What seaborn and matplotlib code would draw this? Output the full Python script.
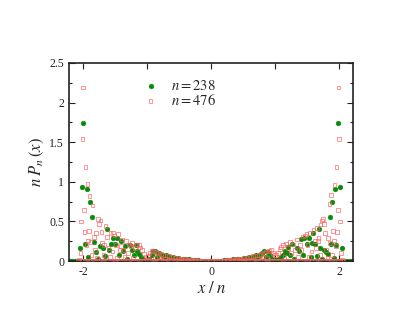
import matplotlib

matplotlib.use("Agg")
import matplotlib.pyplot as plt
import seaborn as sns
import pandas as pd

# n = 238 (green filled circles): points, left and right wings
green_left = [
    (-2.05, 0.16), (-2.02, 0.94), (-1.995, 1.74), (-1.97, 0.21), (-1.94, 0.91),
    (-1.92, 0.05), (-1.89, 0.74), (-1.86, 0.55), (-1.83, 0.24), (-1.79, 0.11),
    (-1.76, 0.02), (-1.73, 0.19), (-1.69, 0.17), (-1.66, 0.06), (-1.63, 0.40),
    (-1.59, 0.14), (-1.56, 0.22), (-1.53, 0.29), (-1.50, 0.21), (-1.47, 0.29),
    (-1.44, 0.07), (-1.40, 0.25), (-1.37, 0.13), (-1.34, 0.19), (-1.31, 0.02),
    (-1.27, 0.20), (-1.24, 0.14), (-1.21, 0.08), (-1.18, 0.20), (-1.15, 0.12),
    (-1.13, 0.085), (-1.10, 0.05), (-1.07, 0.02), (-1.04, 0.01), (-0.97, 0.03),
    (-0.93, 0.08), (-0.90, 0.12), (-0.87, 0.12), (-0.84, 0.05), (-0.81, 0.10),
    (-0.77, 0.08), (-0.74, 0.03), (-0.71, 0.07), (-0.67, 0.06), (-0.64, 0.02),
    (-0.60, 0.05), (-0.56, 0.04), (-0.52, 0.034), (-0.48, 0.01), (-0.44, 0.03),
    (-0.40, 0.025), (-0.35, 0.02), (-0.30, 0.015), (-0.25, 0.013), (-0.20, 0.008),
    (-0.15, 0.005), (-0.10, 0.003),
]
green_right = [
    (0.10, 0.003), (0.15, 0.005), (0.20, 0.008), (0.25, 0.012), (0.30, 0.016),
    (0.35, 0.02), (0.40, 0.026), (0.44, 0.03), (0.48, 0.012), (0.52, 0.035),
    (0.56, 0.04), (0.60, 0.05), (0.64, 0.02), (0.67, 0.06), (0.71, 0.07),
    (0.74, 0.03), (0.77, 0.08), (0.80, 0.10), (0.83, 0.12), (0.86, 0.05),
    (0.89, 0.11), (0.92, 0.07), (0.96, 0.02), (1.03, 0.01), (1.06, 0.03),
    (1.09, 0.05), (1.12, 0.076), (1.15, 0.13), (1.18, 0.10), (1.21, 0.18),
    (1.24, 0.07), (1.26, 0.21), (1.30, 0.02), (1.34, 0.17), (1.37, 0.13),
    (1.41, 0.28), (1.44, 0.07), (1.46, 0.29), (1.50, 0.21), (1.53, 0.29),
    (1.56, 0.05), (1.58, 0.23), (1.60, 0.35), (1.63, 0.21), (1.66, 0.06),
    (1.68, 0.40), (1.71, 0.17), (1.74, 0.02), (1.77, 0.14), (1.80, 0.11),
    (1.83, 0.09), (1.855, 0.55), (1.87, 0.22), (1.89, 0.75), (1.92, 0.04),
    (1.93, 0.91), (1.96, 0.20), (1.98, 1.74), (2.01, 0.93), (2.04, 0.16),
]
green_zero_x = [
    -2.21, -2.17, -2.13, -2.09, -2.00, -1.80, -1.60, -1.40, -1.20, -1.02, -1.00,
    -0.98, -0.80, -0.60, -0.40, -0.20, 0.00, 0.20, 0.40, 0.60, 0.80, 0.98, 1.00,
    1.02, 1.20, 1.40, 1.60, 1.80, 2.00, 2.09, 2.13, 2.17, 2.21,
]

# n = 476 (red open squares)
red_left = [
    (-2.06, 0.02), (-2.04, 0.10), (-2.03, 0.50), (-2.01, 1.54), (-2.00, 2.19),
    (-1.99, 0.64), (-1.98, 0.37), (-1.96, 1.19), (-1.945, 0.20), (-1.93, 0.97),
    (-1.925, 0.26), (-1.91, 0.38), (-1.90, 0.82), (-1.885, 0.24), (-1.87, 0.08),
    (-1.85, 0.70), (-1.83, 0.30), (-1.81, 0.14), (-1.80, 0.35), (-1.78, 0.04),
    (-1.77, 0.53), (-1.75, 0.47), (-1.73, 0.51), (-1.71, 0.37), (-1.70, 0.23),
    (-1.68, 0.08), (-1.67, 0.20), (-1.65, 0.44), (-1.63, 0.30), (-1.60, 0.16),
    (-1.58, 0.05), (-1.57, 0.35), (-1.54, 0.12), (-1.53, 0.36), (-1.51, 0.32),
    (-1.49, 0.20), (-1.47, 0.04), (-1.45, 0.34), (-1.43, 0.14), (-1.41, 0.19),
    (-1.39, 0.27), (-1.37, 0.14), (-1.35, 0.05), (-1.33, 0.25), (-1.30, 0.10),
    (-1.28, 0.21), (-1.25, 0.19), (-1.24, 0.23), (-1.22, 0.04), (-1.19, 0.16),
    (-1.16, 0.21), (-1.13, 0.20), (-1.11, 0.17), (-1.08, 0.14), (-1.05, 0.09),
    (-1.02, 0.055), (-0.99, 0.06), (-0.96, 0.10), (-0.93, 0.13), (-0.90, 0.13),
    (-0.88, 0.04), (-0.86, 0.11), (-0.83, 0.10), (-0.80, 0.02), (-0.78, 0.09),
    (-0.75, 0.08), (-0.72, 0.03), (-0.69, 0.07), (-0.66, 0.06), (-0.63, 0.02),
    (-0.60, 0.05), (-0.57, 0.045), (-0.54, 0.015), (-0.51, 0.035), (-0.47, 0.03),
    (-0.44, 0.01), (-0.41, 0.025), (-0.37, 0.02), (-0.33, 0.015), (-0.29, 0.012),
    (-0.25, 0.01), (-0.20, 0.007), (-0.15, 0.004),
]
red_right = [
    (0.15, 0.004), (0.20, 0.007), (0.25, 0.01), (0.29, 0.012), (0.33, 0.015),
    (0.37, 0.02), (0.41, 0.025), (0.44, 0.01), (0.47, 0.03), (0.51, 0.035),
    (0.54, 0.015), (0.57, 0.045), (0.60, 0.05), (0.63, 0.02), (0.66, 0.06),
    (0.69, 0.07), (0.72, 0.03), (0.75, 0.08), (0.78, 0.09), (0.80, 0.02),
    (0.83, 0.10), (0.86, 0.12), (0.88, 0.04), (0.91, 0.13), (0.94, 0.14),
    (0.97, 0.10), (1.00, 0.08), (1.02, 0.076), (1.05, 0.10), (1.08, 0.15),
    (1.09, 0.18), (1.12, 0.20), (1.15, 0.05), (1.17, 0.22), (1.20, 0.16),
    (1.23, 0.24), (1.25, 0.10), (1.28, 0.21), (1.31, 0.14), (1.34, 0.27),
    (1.36, 0.05), (1.39, 0.20), (1.41, 0.14), (1.44, 0.31), (1.47, 0.32),
    (1.49, 0.34), (1.51, 0.20), (1.53, 0.05), (1.55, 0.35), (1.57, 0.12),
    (1.60, 0.39), (1.62, 0.25), (1.64, 0.16), (1.66, 0.42), (1.67, 0.25),
    (1.68, 0.29), (1.70, 0.08), (1.71, 0.46), (1.73, 0.51), (1.75, 0.53),
    (1.77, 0.47), (1.78, 0.35), (1.80, 0.14), (1.82, 0.04), (1.83, 0.29),
    (1.85, 0.72), (1.86, 0.23), (1.87, 0.83), (1.89, 0.08), (1.91, 0.38),
    (1.92, 0.26), (1.93, 0.96), (1.95, 0.19), (1.96, 1.19), (1.965, 0.37),
    (1.98, 0.64), (1.99, 2.19), (2.00, 1.54), (2.02, 0.50), (2.03, 0.10),
    (2.05, 0.02),
]
# sites where the n = 476 walk has (almost) zero weight: they pile up into a red band
red_zero_x = [
    -2.08, -2.055, -2.03, -2.005, -1.98, -1.955, -1.93, -1.905, -1.88, -1.855,
    -1.83, -1.805, -1.78, -1.755, -1.73, -1.705, -1.68, -1.655, -1.63, -1.605,
    -1.58, -1.555, -1.53, -1.505, -1.48, -1.455, -1.43, -1.405, -1.38, -1.355,
    -1.33, -1.305, -1.28, -1.255, -1.23, -1.205, -1.18, -1.155, -1.13, -1.105,
    -1.08, -1.055, -1.03, -1.005, -0.98, -0.955, -0.93, -0.905, -0.88, -0.855,
    -0.83, -0.805, -0.78, -0.755, -0.73, -0.705, -0.68, -0.655, -0.63, -0.605,
    -0.58, -0.555, -0.53, -0.505, -0.48, -0.455, -0.43, -0.405, -0.38, -0.355,
    -0.33, -0.305, -0.28, -0.255, -0.23, -0.205, -0.18, -0.155, -0.13, -0.105,
    -0.08, -0.055, -0.03, -0.005, 0.02, 0.045, 0.07, 0.095, 0.12, 0.145, 0.17,
    0.195, 0.22, 0.245, 0.27, 0.295, 0.32, 0.345, 0.37, 0.395, 0.42, 0.445,
    0.47, 0.495, 0.52, 0.545, 0.57, 0.595, 0.62, 0.645, 0.67, 0.695, 0.72,
    0.745, 0.77, 0.795, 0.82, 0.845, 0.87, 0.895, 0.92, 0.945, 0.97, 0.995,
    1.02, 1.045, 1.07, 1.095, 1.12, 1.145, 1.17, 1.195, 1.22, 1.245, 1.27,
    1.295, 1.32, 1.345, 1.37, 1.395, 1.42, 1.445, 1.47, 1.495, 1.52, 1.545,
    1.57, 1.595, 1.62, 1.645, 1.67, 1.695, 1.72, 1.745, 1.77, 1.795, 1.82,
    1.845, 1.87, 1.895, 1.92, 1.945, 1.97, 1.995, 2.02, 2.045, 2.07,
]

x_ticks = [-2, -1, 0, 1, 2]
x_tick_labels = ["-2", "", "0", "", "2"]
y_ticks = [0, 0.5, 1, 1.5, 2, 2.5]
y_tick_labels = ["0", "0.5", "1", "1.5", "2", "2.5"]


def to_frame(points, zeros):
    df = pd.DataFrame(points, columns=["x", "y"])
    z = pd.DataFrame({"x": zeros, "y": [0.0] * len(zeros)})
    return pd.concat([z, df], ignore_index=True)


sns.set_style("ticks")
plt.rcParams["font.family"] = ["Liberation Serif", "DejaVu Serif"]
plt.rcParams["mathtext.fontset"] = "stix"

green_df = to_frame(green_left + green_right, green_zero_x)
red_df = to_frame(red_left + red_right, red_zero_x)

fig = plt.figure(figsize=(4.07, 3.15), dpi=100)
ax = fig.add_axes([0.1695, 0.1714, 0.698, 0.629])

sns.scatterplot(
    data=green_df, x="x", y="y", ax=ax, marker="o", s=12,
    color="#0a8a0a", edgecolor="#0a8a0a", linewidth=0.3, label=r"$n = 238$",
    zorder=2,
)
sns.scatterplot(
    data=red_df, x="x", y="y", ax=ax, marker="s", s=7,
    facecolor="none", edgecolor="#ff5c5c", linewidth=0.6, alpha=0.75,
    label=r"$n = 476$", zorder=3,
)

ax.set_xlim(-2.22, 2.22)
ax.set_ylim(0, 2.5)
ax.set_xticks(x_ticks)
ax.set_xticklabels(x_tick_labels)
ax.set_yticks(y_ticks)
ax.set_yticklabels(y_tick_labels)
ax.set_yticks([0.25, 0.75, 1.25, 1.75, 2.25], minor=True)
ax.tick_params(which="both", direction="in", top=True, right=True,
               labelsize=8.5, width=0.8, colors="#222222")
ax.tick_params(which="major", length=4.5)
ax.tick_params(which="minor", length=2.2)
for side in ax.spines.values():
    side.set_linewidth(1.2)
    side.set_color("#222222")

ax.set_xlabel(r"$x\;/\;n$", fontsize=12, labelpad=2)
ax.set_ylabel(r"$n\;P_n\,(x)$", fontsize=12, labelpad=2)

leg = ax.legend(loc="upper left", bbox_to_anchor=(0.2, 0.97), frameon=False,
                fontsize=10.5, handletextpad=0.4, borderpad=0.2,
                labelspacing=0.0, markerscale=1.0)

fig.savefig("out.png", dpi=100)
